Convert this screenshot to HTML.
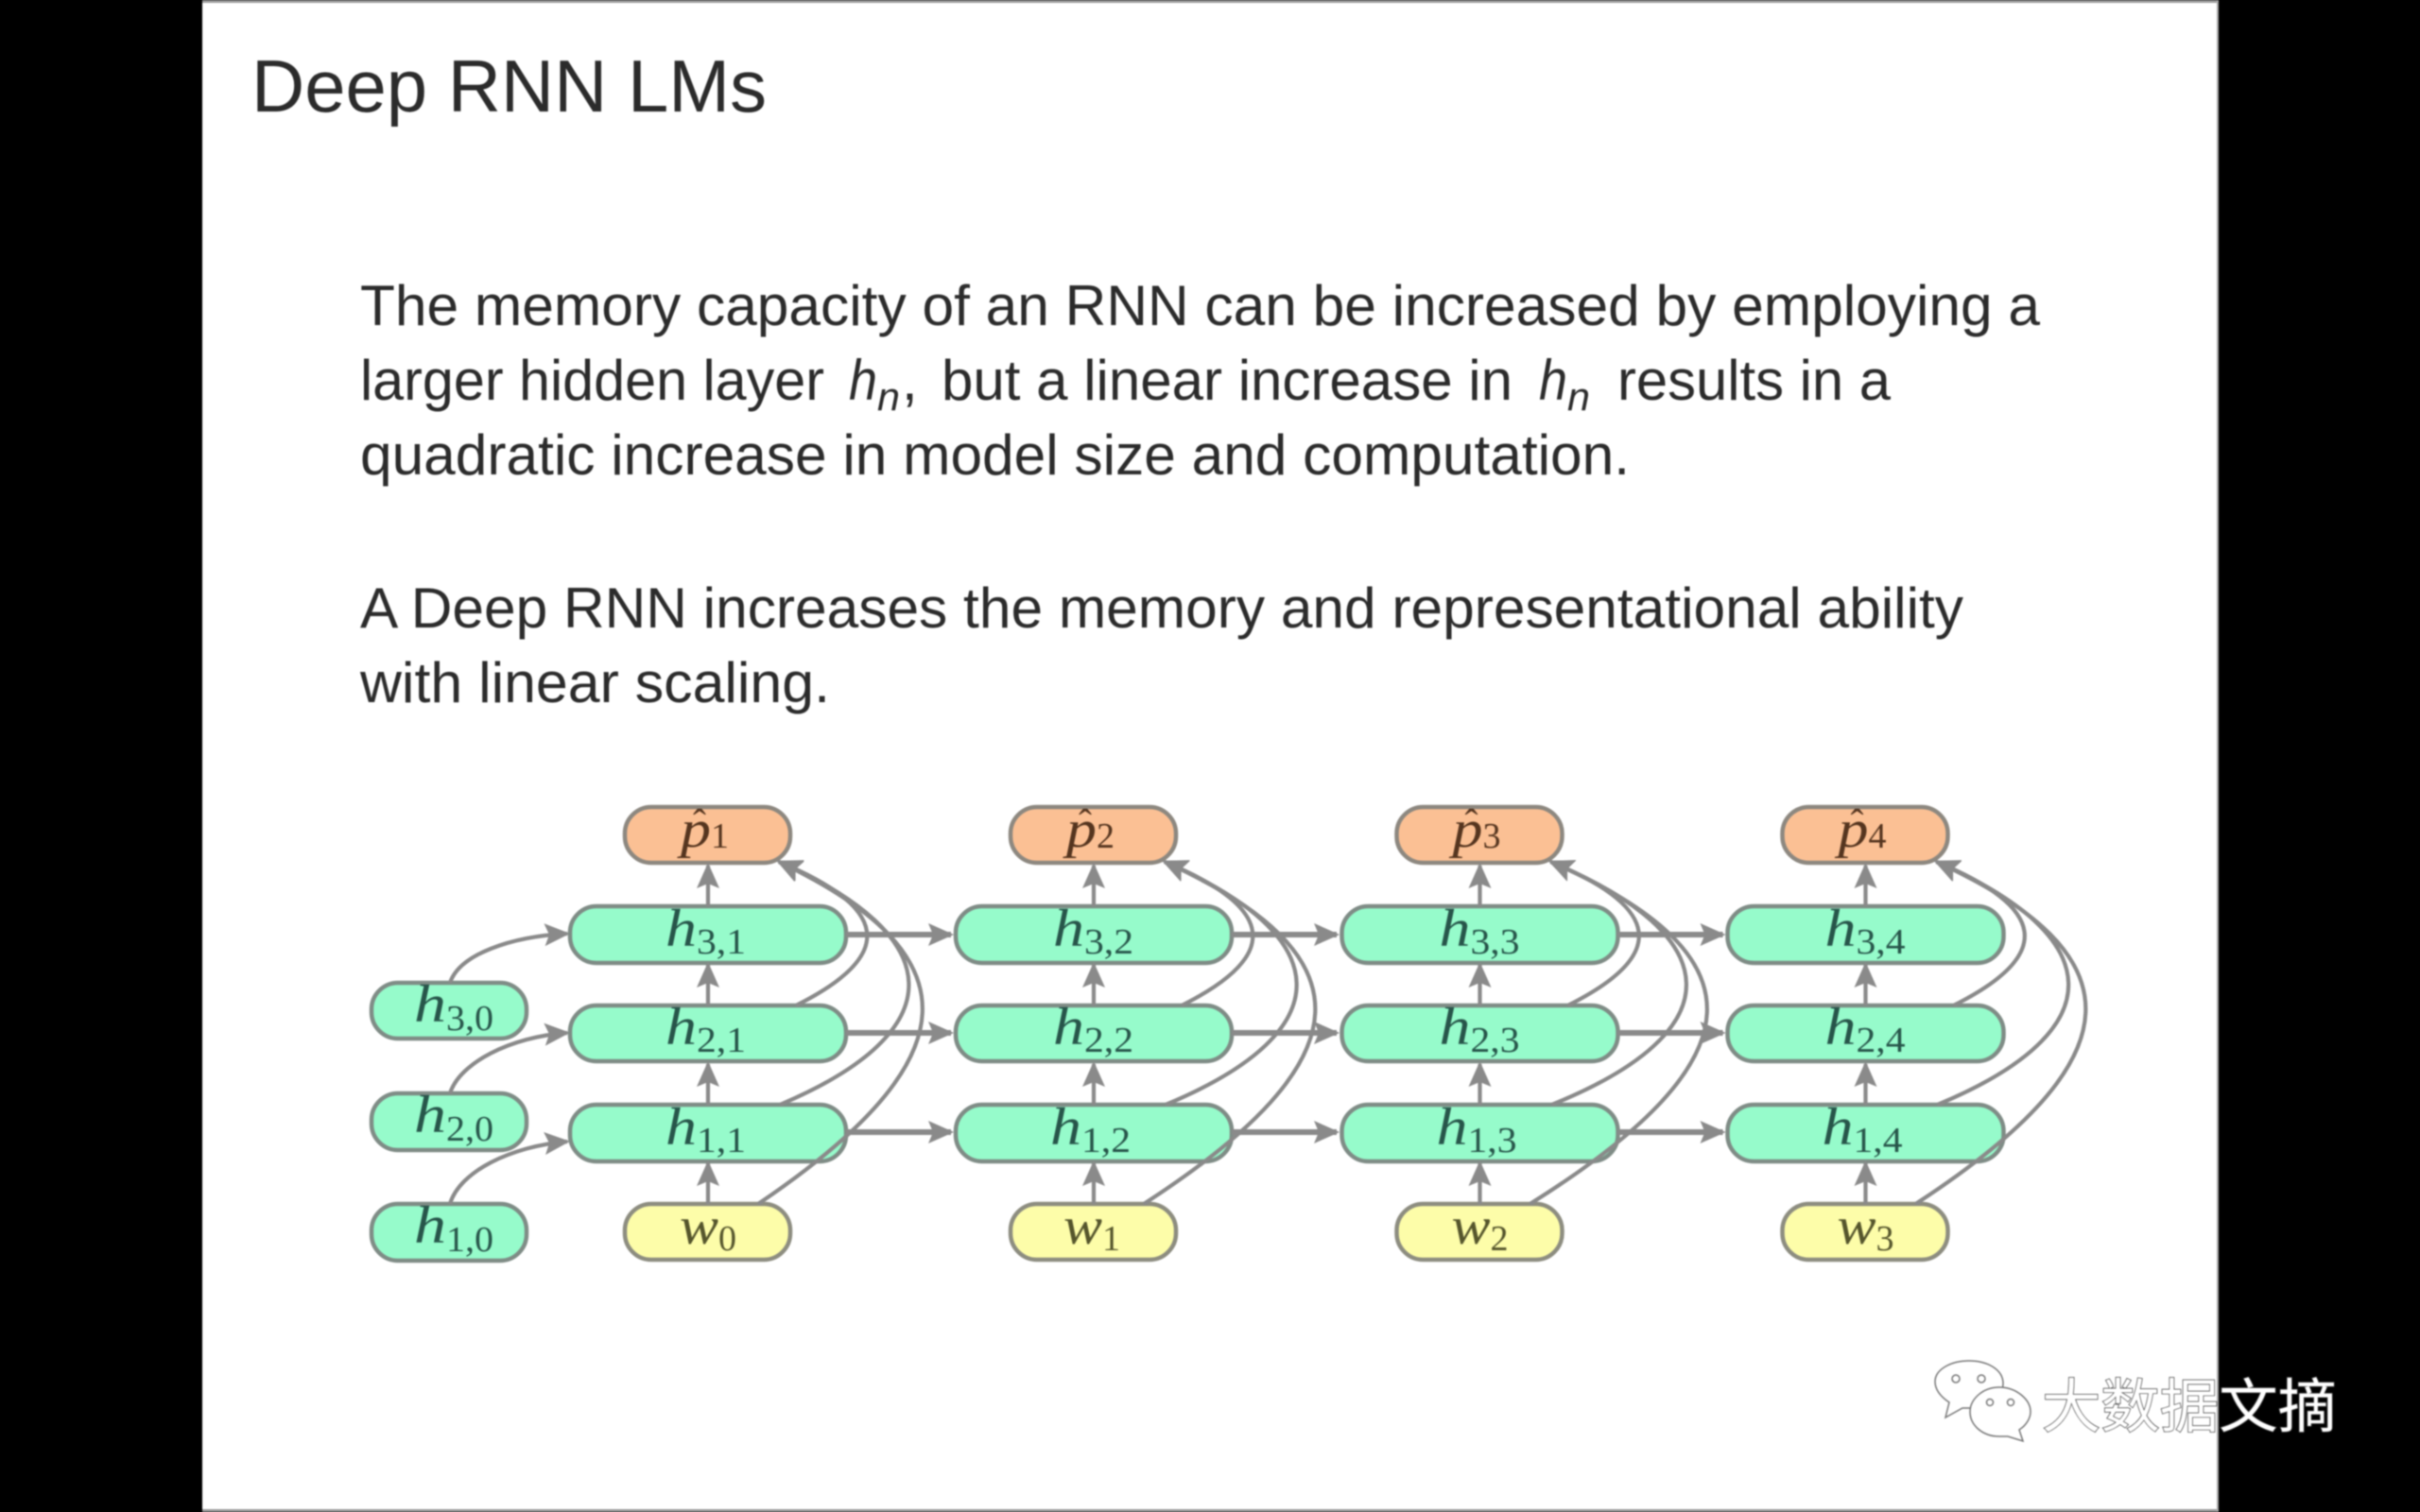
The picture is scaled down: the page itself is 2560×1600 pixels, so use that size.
<!DOCTYPE html>
<html><head><meta charset="utf-8"><title>Deep RNN LMs</title>
<style>
html,body{margin:0;padding:0;background:#000;width:2560px;height:1600px;overflow:hidden}
svg{display:block;filter:blur(.7px)}
.t{font-family:"Liberation Sans",sans-serif;fill:#2b2b2b}
.i{font-style:italic}
.m{font-family:"Liberation Serif",serif;font-style:italic;fill:#27554a;font-size:56px}
.s{font-family:"Liberation Serif",serif;fill:#27554a;font-size:38px}
.pm{fill:#55351f}.ps{fill:#55351f}.wm{fill:#55552c}.ws{fill:#55552c}
.hat{font-family:"Liberation Serif",serif;font-size:42px;fill:#55351f}
.g{fill:#96fbcb;stroke:#7f8c86;stroke-width:4.5}
.o{fill:#fbc094;stroke:#8d8880;stroke-width:4.5}
.y{fill:#fdfda9;stroke:#8d8d80;stroke-width:4.5}
.c{fill:none;stroke:#8a8a8a;stroke-width:4.2}
.h{fill:none;stroke:#8a8a8a;stroke-width:6}
.wx{font-family:"Liberation Sans","Noto Sans CJK SC",sans-serif;font-size:62px;fill:#fff;stroke:#444;stroke-width:1.4;paint-order:stroke}
</style></head><body>
<svg width="2560" height="1600" viewBox="0 0 2560 1600" xmlns="http://www.w3.org/2000/svg">
<defs>
<marker id="a" markerUnits="userSpaceOnUse" markerWidth="30" markerHeight="26" refX="24" refY="12" orient="auto" viewBox="0 0 30 26">
<path d="M0,0 L27,12 L0,24 L5,12 Z" fill="#8a8a8a"/>
</marker>
</defs>
<rect width="2560" height="1600" fill="#000"/>
<rect x="214" y="0" width="2133" height="1600" fill="#fff"/>
<rect x="214" y="0" width="2133" height="3" fill="#9a9a9a"/>
<rect x="214" y="1597" width="2133" height="3" fill="#9a9a9a"/>
<rect x="2345" y="0" width="2" height="1600" fill="#aaa"/>

<text class="t" x="266" y="118" font-size="78" textLength="545" lengthAdjust="spacingAndGlyphs">Deep RNN LMs</text>

<g font-size="60">
<text class="t" x="381" y="344" textLength="1777" lengthAdjust="spacingAndGlyphs">The memory capacity of an RNN can be increased by employing a</text>
<text class="t" x="381" y="423" textLength="491" lengthAdjust="spacingAndGlyphs">larger hidden layer</text>
<text class="t i" x="898" y="423" textLength="30" lengthAdjust="spacingAndGlyphs">h</text>
<text class="t i" x="928" y="434" font-size="42" textLength="24" lengthAdjust="spacingAndGlyphs">n</text>
<text class="t" x="954" y="423">,</text>
<text class="t" x="996" y="423" textLength="604" lengthAdjust="spacingAndGlyphs">but a linear increase in</text>
<text class="t i" x="1628" y="423" textLength="30" lengthAdjust="spacingAndGlyphs">h</text>
<text class="t i" x="1658" y="434" font-size="42" textLength="24" lengthAdjust="spacingAndGlyphs">n</text>
<text class="t" x="1711" y="423" textLength="289" lengthAdjust="spacingAndGlyphs">results in a</text>
<text class="t" x="381" y="502" textLength="1343" lengthAdjust="spacingAndGlyphs">quadratic increase in model size and computation.</text>
<text class="t" x="381" y="664" textLength="1696" lengthAdjust="spacingAndGlyphs">A Deep RNN increases the memory and representational ability</text>
<text class="t" x="381" y="743" textLength="497" lengthAdjust="spacingAndGlyphs">with linear scaling.</text>
</g>

<!-- left column -->
<rect class="g" x="393" y="1040" width="164" height="59" rx="28"/>
<rect class="g" x="393" y="1157" width="164" height="60" rx="28"/>
<rect class="g" x="393" y="1274" width="164" height="60" rx="28"/>
<path class="c" marker-end="url(#a)" d="M476,1040 C486,1010 540,991 600,988"/>
<path class="c" marker-end="url(#a)" d="M476,1157 C486,1125 540,1097 600,1093"/>
<path class="c" marker-end="url(#a)" d="M476,1274 C486,1240 540,1213 600,1208"/>
<text class="m" x="438" y="1081" textLength="34" lengthAdjust="spacingAndGlyphs">h</text><text class="s" x="472" y="1090" textLength="50" lengthAdjust="spacingAndGlyphs">3,0</text>
<text class="m" x="438" y="1198" textLength="34" lengthAdjust="spacingAndGlyphs">h</text><text class="s" x="472" y="1207" textLength="50" lengthAdjust="spacingAndGlyphs">2,0</text>
<text class="m" x="438" y="1315" textLength="34" lengthAdjust="spacingAndGlyphs">h</text><text class="s" x="472" y="1324" textLength="50" lengthAdjust="spacingAndGlyphs">1,0</text>

<!-- column 1 -->
<g>
<rect class="o" x="661" y="854" width="175" height="59" rx="28"/>
<rect class="g" x="603" y="959" width="292" height="60" rx="28"/>
<rect class="g" x="603" y="1064" width="292" height="59" rx="28"/>
<rect class="g" x="603" y="1169" width="292" height="60" rx="28"/>
<rect class="y" x="661" y="1274" width="175" height="59" rx="28"/>
<path class="c" marker-end="url(#a)" d="M749,959 V916"/>
<path class="c" marker-end="url(#a)" d="M749,1064 V1021"/>
<path class="c" marker-end="url(#a)" d="M749,1169 V1126"/>
<path class="c" marker-end="url(#a)" d="M749,1274 V1231"/>
<path class="c" marker-end="url(#a)" d="M842,1064 C950,1010 940,960 824,912"/>
<path class="c" marker-end="url(#a)" d="M825,1169 C1012,1090 1002,990 824,912"/>
<path class="c" marker-end="url(#a)" d="M802,1274 C1030,1120 1030,1010 824,912"/>
<path class="h" marker-end="url(#a)" d="M895,989 H1006"/>
<path class="h" marker-end="url(#a)" d="M895,1093 H1006"/>
<path class="h" marker-end="url(#a)" d="M895,1198 H1006"/>
<text class="hat" x="733" y="885">ˆ</text>
<text class="m pm" x="720" y="896" textLength="32" lengthAdjust="spacingAndGlyphs">p</text><text class="s ps" x="752" y="897" textLength="19" lengthAdjust="spacingAndGlyphs">1</text>
<text class="m" x="704" y="1001" textLength="33" lengthAdjust="spacingAndGlyphs">h</text><text class="s" x="737" y="1009" textLength="52" lengthAdjust="spacingAndGlyphs">3,1</text>
<text class="m" x="704" y="1105" textLength="33" lengthAdjust="spacingAndGlyphs">h</text><text class="s" x="737" y="1113" textLength="52" lengthAdjust="spacingAndGlyphs">2,1</text>
<text class="m" x="704" y="1211" textLength="33" lengthAdjust="spacingAndGlyphs">h</text><text class="s" x="737" y="1219" textLength="52" lengthAdjust="spacingAndGlyphs">1,1</text>
<text class="m wm" x="719" y="1316" textLength="41" lengthAdjust="spacingAndGlyphs">w</text><text class="s ws" x="760" y="1323" textLength="19" lengthAdjust="spacingAndGlyphs">0</text>
</g>

<!-- column 2 -->
<g transform="translate(408,0)">
<rect class="o" x="661" y="854" width="175" height="59" rx="28"/>
<rect class="g" x="603" y="959" width="292" height="60" rx="28"/>
<rect class="g" x="603" y="1064" width="292" height="59" rx="28"/>
<rect class="g" x="603" y="1169" width="292" height="60" rx="28"/>
<rect class="y" x="661" y="1274" width="175" height="59" rx="28"/>
<path class="c" marker-end="url(#a)" d="M749,959 V916"/>
<path class="c" marker-end="url(#a)" d="M749,1064 V1021"/>
<path class="c" marker-end="url(#a)" d="M749,1169 V1126"/>
<path class="c" marker-end="url(#a)" d="M749,1274 V1231"/>
<path class="c" marker-end="url(#a)" d="M842,1064 C950,1010 940,960 824,912"/>
<path class="c" marker-end="url(#a)" d="M825,1169 C1015,1090 1005,990 824,912"/>
<path class="c" marker-end="url(#a)" d="M802,1274 C1040,1120 1040,1010 824,912"/>
<path class="h" marker-end="url(#a)" d="M895,989 H1006"/>
<path class="h" marker-end="url(#a)" d="M895,1093 H1006"/>
<path class="h" marker-end="url(#a)" d="M895,1198 H1006"/>
<text class="hat" x="733" y="885">ˆ</text>
<text class="m pm" x="720" y="896" textLength="32" lengthAdjust="spacingAndGlyphs">p</text><text class="s ps" x="752" y="897" textLength="19" lengthAdjust="spacingAndGlyphs">2</text>
<text class="m" x="706" y="1001" textLength="33" lengthAdjust="spacingAndGlyphs">h</text><text class="s" x="739" y="1009" textLength="52" lengthAdjust="spacingAndGlyphs">3,2</text>
<text class="m" x="706" y="1105" textLength="33" lengthAdjust="spacingAndGlyphs">h</text><text class="s" x="739" y="1113" textLength="52" lengthAdjust="spacingAndGlyphs">2,2</text>
<text class="m" x="703" y="1211" textLength="33" lengthAdjust="spacingAndGlyphs">h</text><text class="s" x="736" y="1219" textLength="52" lengthAdjust="spacingAndGlyphs">1,2</text>
<text class="m wm" x="717" y="1316" textLength="41" lengthAdjust="spacingAndGlyphs">w</text><text class="s ws" x="758" y="1323" textLength="19" lengthAdjust="spacingAndGlyphs">1</text>
</g>

<!-- column 3 -->
<g transform="translate(816.5,0)">
<rect class="o" x="661" y="854" width="175" height="59" rx="28"/>
<rect class="g" x="603" y="959" width="292" height="60" rx="28"/>
<rect class="g" x="603" y="1064" width="292" height="59" rx="28"/>
<rect class="g" x="603" y="1169" width="292" height="60" rx="28"/>
<rect class="y" x="661" y="1274" width="175" height="59" rx="28"/>
<path class="c" marker-end="url(#a)" d="M749,959 V916"/>
<path class="c" marker-end="url(#a)" d="M749,1064 V1021"/>
<path class="c" marker-end="url(#a)" d="M749,1169 V1126"/>
<path class="c" marker-end="url(#a)" d="M749,1274 V1231"/>
<path class="c" marker-end="url(#a)" d="M842,1064 C950,1010 940,960 824,912"/>
<path class="c" marker-end="url(#a)" d="M825,1169 C1020,1090 1010,990 824,912"/>
<path class="c" marker-end="url(#a)" d="M802,1274 C1048,1120 1048,1010 824,912"/>
<path class="h" marker-end="url(#a)" d="M895,989 H1006"/>
<path class="h" marker-end="url(#a)" d="M895,1093 H1006"/>
<path class="h" marker-end="url(#a)" d="M895,1198 H1006"/>
<text class="hat" x="733" y="885">ˆ</text>
<text class="m pm" x="720" y="896" textLength="32" lengthAdjust="spacingAndGlyphs">p</text><text class="s ps" x="752" y="897" textLength="19" lengthAdjust="spacingAndGlyphs">3</text>
<text class="m" x="706" y="1001" textLength="33" lengthAdjust="spacingAndGlyphs">h</text><text class="s" x="739" y="1009" textLength="52" lengthAdjust="spacingAndGlyphs">3,3</text>
<text class="m" x="706" y="1105" textLength="33" lengthAdjust="spacingAndGlyphs">h</text><text class="s" x="739" y="1113" textLength="52" lengthAdjust="spacingAndGlyphs">2,3</text>
<text class="m" x="703" y="1211" textLength="33" lengthAdjust="spacingAndGlyphs">h</text><text class="s" x="736" y="1219" textLength="52" lengthAdjust="spacingAndGlyphs">1,3</text>
<text class="m wm" x="719" y="1316" textLength="41" lengthAdjust="spacingAndGlyphs">w</text><text class="s ws" x="760" y="1323" textLength="19" lengthAdjust="spacingAndGlyphs">2</text>
</g>

<!-- column 4 -->
<g transform="translate(1224.5,0)">
<rect class="o" x="661" y="854" width="175" height="59" rx="28"/>
<rect class="g" x="603" y="959" width="292" height="60" rx="28"/>
<rect class="g" x="603" y="1064" width="292" height="59" rx="28"/>
<rect class="g" x="603" y="1169" width="292" height="60" rx="28"/>
<rect class="y" x="661" y="1274" width="175" height="59" rx="28"/>
<path class="c" marker-end="url(#a)" d="M749,959 V916"/>
<path class="c" marker-end="url(#a)" d="M749,1064 V1021"/>
<path class="c" marker-end="url(#a)" d="M749,1169 V1126"/>
<path class="c" marker-end="url(#a)" d="M749,1274 V1231"/>
<path class="c" marker-end="url(#a)" d="M842,1064 C950,1010 940,960 824,912"/>
<path class="c" marker-end="url(#a)" d="M825,1169 C1015,1090 1005,990 824,912"/>
<path class="c" marker-end="url(#a)" d="M802,1274 C1038,1120 1038,1010 824,912"/>
<text class="hat" x="733" y="885">ˆ</text>
<text class="m pm" x="720" y="896" textLength="32" lengthAdjust="spacingAndGlyphs">p</text><text class="s ps" x="752" y="897" textLength="19" lengthAdjust="spacingAndGlyphs">4</text>
<text class="m" x="706" y="1001" textLength="33" lengthAdjust="spacingAndGlyphs">h</text><text class="s" x="739" y="1009" textLength="52" lengthAdjust="spacingAndGlyphs">3,4</text>
<text class="m" x="706" y="1105" textLength="33" lengthAdjust="spacingAndGlyphs">h</text><text class="s" x="739" y="1113" textLength="52" lengthAdjust="spacingAndGlyphs">2,4</text>
<text class="m" x="703" y="1211" textLength="33" lengthAdjust="spacingAndGlyphs">h</text><text class="s" x="736" y="1219" textLength="52" lengthAdjust="spacingAndGlyphs">1,4</text>
<text class="m wm" x="719" y="1316" textLength="41" lengthAdjust="spacingAndGlyphs">w</text><text class="s ws" x="760" y="1323" textLength="19" lengthAdjust="spacingAndGlyphs">3</text>
</g>

<!-- watermark -->
<g fill="#fff" stroke="#777" stroke-width="1.5">
<path d="M2058,1500 L2062,1484 C2050,1476 2047,1468 2047,1462 C2047,1449 2064,1440 2083,1440 C2102,1440 2119,1449 2119,1464 C2119,1480 2100,1490 2083,1490 L2076,1490 Z"/>
<path d="M2140,1525 L2136,1513 C2144,1508 2148,1500 2148,1494 C2148,1481 2133,1468 2115,1468 C2097,1468 2084,1481 2084,1494 C2084,1508 2097,1520 2115,1520 L2124,1520 Z"/>
<circle cx="2069" cy="1459" r="4"/><circle cx="2096" cy="1459" r="4"/>
<circle cx="2105" cy="1484" r="3.5"/><circle cx="2127" cy="1484" r="3.5"/>
</g>
<text class="wx" x="2160" y="1510" textLength="312" lengthAdjust="spacingAndGlyphs">大数据文摘</text>
</svg>
</body></html>
